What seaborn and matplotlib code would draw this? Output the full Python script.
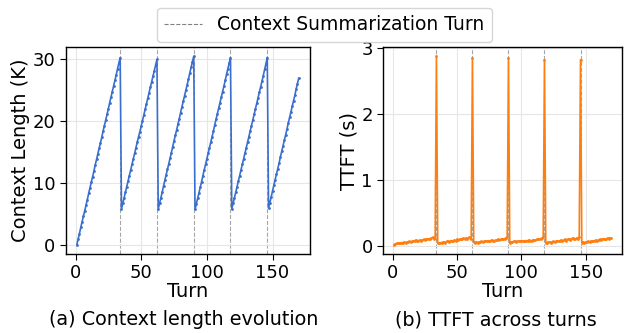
import matplotlib
matplotlib.use("Agg")
import matplotlib.pyplot as plt
import seaborn as sns
import pandas as pd
from matplotlib.lines import Line2D

# --- data ---
summary_turns = [34, 62, 90, 118, 146]

ctx_seg1 = [0.0, 0.9, 1.8, 2.8, 3.7, 4.6, 5.5, 6.4, 7.3, 8.3, 9.2, 10.1, 11.0, 11.9, 12.9, 13.8, 14.7,
            15.6, 16.5, 17.4, 18.4, 19.3, 20.2, 21.1, 22.0, 23.0, 23.9, 24.8, 25.7, 26.6, 27.5, 28.5, 29.4, 30.3]
ctx_seg2 = [5.8, 6.7, 7.6, 8.5, 9.4, 10.3, 11.2, 12.1, 13.0, 13.9, 14.8, 15.7, 16.6, 17.5, 18.3, 19.2,
            20.1, 21.0, 21.9, 22.8, 23.7, 24.6, 25.5, 26.4, 27.3, 28.2, 29.1, 30.0]
ctx_seg3 = [5.8, 6.7, 7.6, 8.5, 9.5, 10.4, 11.3, 12.2, 13.1, 14.0, 14.9, 15.9, 16.8, 17.7, 18.6, 19.5,
            20.4, 21.4, 22.3, 23.2, 24.1, 25.0, 25.9, 26.8, 27.8, 28.7, 29.6, 30.5]
ctx_seg4 = [5.7, 6.6, 7.5, 8.4, 9.3, 10.2, 11.2, 12.1, 13.0, 13.9, 14.8, 15.7, 16.6, 17.5, 18.4, 19.4,
            20.3, 21.2, 22.1, 23.0, 23.9, 24.8, 25.7, 26.6, 27.6, 28.5, 29.4, 30.3]
ctx_seg5 = [5.8, 6.7, 7.6, 8.5, 9.4, 10.3, 11.2, 12.1, 13.0, 13.9, 14.8, 15.7, 16.6, 17.5, 18.4, 19.3,
            20.2, 21.1, 22.0, 22.9, 23.8, 24.7, 25.6, 26.5, 27.4, 28.4, 29.3, 30.3]
ctx_seg6 = [5.9, 6.8, 7.7, 8.7, 9.6, 10.5, 11.4, 12.3, 13.2, 14.2, 15.1, 16.0, 16.9, 17.8, 18.7, 19.7,
            20.6, 21.5, 22.4, 23.3, 24.2, 25.2, 26.1, 27.0]

ttft_seg1 = [0.02, 0.03, 0.04, 0.04, 0.04, 0.05, 0.05, 0.05, 0.06, 0.05, 0.06, 0.06, 0.07, 0.06, 0.07, 0.07,
             0.08, 0.09, 0.08, 0.08, 0.09, 0.08, 0.09, 0.10, 0.09, 0.10, 0.10, 0.11, 0.11, 0.12, 0.13, 0.11, 0.12]
ttft_seg2 = [0.05, 0.04, 0.05, 0.05, 0.06, 0.06, 0.05, 0.07, 0.07, 0.06, 0.08, 0.08, 0.07, 0.09, 0.08, 0.10,
             0.09, 0.10, 0.11, 0.10, 0.12, 0.11, 0.12, 0.11, 0.13, 0.12, 0.11]
ttft_seg3 = [0.06, 0.05, 0.06, 0.05, 0.06, 0.06, 0.07, 0.06, 0.07, 0.07, 0.08, 0.07, 0.08, 0.08, 0.09, 0.08,
             0.08, 0.09, 0.09, 0.10, 0.09, 0.10, 0.11, 0.10, 0.11, 0.12, 0.14]
ttft_seg4 = [0.05, 0.06, 0.06, 0.07, 0.07, 0.06, 0.07, 0.07, 0.08, 0.07, 0.08, 0.07, 0.08, 0.08, 0.08, 0.09,
             0.08, 0.08, 0.09, 0.09, 0.09, 0.10, 0.10, 0.10, 0.11, 0.12, 0.13]
ttft_seg5 = [0.05, 0.05, 0.06, 0.06, 0.05, 0.06, 0.07, 0.06, 0.07, 0.08, 0.07, 0.08, 0.09, 0.07, 0.09, 0.10,
             0.08, 0.10, 0.11, 0.09, 0.11, 0.12, 0.10, 0.11, 0.12, 0.10, 0.13]
ttft_seg6 = [0.05, 0.06, 0.05, 0.06, 0.06, 0.07, 0.06, 0.07, 0.08, 0.07, 0.08, 0.09, 0.08, 0.09, 0.10, 0.09,
             0.10, 0.11, 0.10, 0.11, 0.12, 0.11, 0.12, 0.12]
ttft_spikes = [2.88, 2.86, 2.86, 2.83, 2.83]

context_k = ctx_seg1 + ctx_seg2 + ctx_seg3 + ctx_seg4 + ctx_seg5 + ctx_seg6
ttft = (ttft_seg1 + [ttft_spikes[0]] + ttft_seg2 + [ttft_spikes[1]] + ttft_seg3 + [ttft_spikes[2]]
        + ttft_seg4 + [ttft_spikes[3]] + ttft_seg5 + [ttft_spikes[4]] + ttft_seg6)
turns = list(range(1, len(context_k) + 1))
assert len(ttft) == len(context_k) == 170

df = pd.DataFrame({'turn': turns, 'context': context_k, 'ttft': ttft})

sns.set_style("ticks", {'axes.labelcolor': 'black', 'xtick.color': 'black',
                        'ytick.color': 'black', 'text.color': 'black'})
plt.rcParams['font.family'] = ['DejaVu Sans']
plt.rcParams['text.color'] = 'black'

fig = plt.figure(figsize=(6.26, 3.33), dpi=100)
ax1 = fig.add_axes([0.105, 0.237, 0.390, 0.622])
ax2 = fig.add_axes([0.612, 0.237, 0.382, 0.622])

blue = '#3b6fcf'
orange = '#ff7f0e'

sns.lineplot(data=df, x='turn', y='context', ax=ax1, color=blue, marker='.', markersize=4,
             markeredgewidth=0, linewidth=1.2)
sns.lineplot(data=df, x='turn', y='ttft', ax=ax2, color=orange, marker='.', markersize=4,
             markeredgewidth=0, linewidth=1.2)

for ax in (ax1, ax2):
    for t in summary_turns:
        ax.axvline(t, color='gray', linestyle='--', linewidth=0.8, alpha=0.7, zorder=0)
    ax.grid(True, color='#e6e6e6', linewidth=0.8)
    ax.set_axisbelow(True)
    for s in ax.spines.values():
        s.set_color('black')
        s.set_linewidth(1.0)
    ax.tick_params(labelsize=13, length=4, colors='black')
    ax.set_xticks([0, 50, 100, 150])
    ax.set_xlabel('Turn', fontsize=14, labelpad=0)

ax1.set_yticks([0, 10, 20, 30])
ax1.set_ylabel('Context Length (K)', fontsize=14, labelpad=2)
ax2.set_yticks([0, 1, 2, 3])
ax2.set_ylabel('TTFT (s)', fontsize=14, labelpad=2)

fig.text(0.293, 0.04, '(a) Context length evolution', ha='center', va='center', fontsize=13.8)
fig.text(0.792, 0.04, '(b) TTFT across turns', ha='center', va='center', fontsize=13.8)

handle = Line2D([0], [0], color='gray', linestyle='--', linewidth=0.8)
fig.legend([handle], ['Context Summarization Turn'], loc='upper center',
           bbox_to_anchor=(0.518, 1.005), fontsize=13.5, frameon=True)

fig.savefig('out.png', dpi=100)
